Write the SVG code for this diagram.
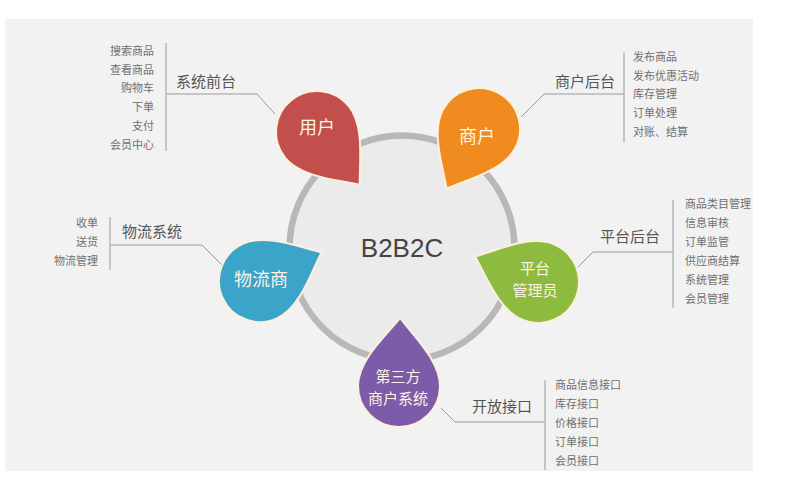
<svg xmlns="http://www.w3.org/2000/svg" width="800" height="500" viewBox="0 0 800 500">
<style>
.item{font-family:"Noto Sans CJK SC","Noto Sans",sans-serif;font-size:11px;fill:#707070}
.lbl{font-family:"Noto Sans CJK SC","Noto Sans",sans-serif;font-size:15px;fill:#555}
.ptxt{font-family:"Noto Sans CJK SC","Noto Sans",sans-serif;font-size:18px;fill:#fdf3e6;text-anchor:middle}
.ptxt2{font-family:"Noto Sans CJK SC","Noto Sans",sans-serif;font-size:15px;fill:#fdf3e6;text-anchor:middle}
.con{fill:none;stroke:#9a9a9a;stroke-width:1}
.bar{fill:none;stroke:#a8a8a8;stroke-width:1.2}
.petal{stroke:#fbf0dd;stroke-width:2}
</style>
<defs>
<path id="drop" d="M0,-68 C12,-52 41,-26 41,0 A41,41 0 1 1 -41,0 C-41,-26 -12,-52 0,-68 Z"/>
</defs>
<rect x="0" y="0" width="800" height="500" fill="#ffffff"/>
<rect x="5" y="19" width="748" height="452" fill="#f2f2f2"/>

<g id="hub">
<circle cx="402" cy="248" r="112.5" fill="#ebebeb" stroke="#b8b8b8" stroke-width="6.5"/>
<text x="402" y="257" font-family="Liberation Sans, Arial, sans-serif" font-size="26" fill="#444" text-anchor="middle">B2B2C</text>
</g>

<g id="connectors">
<polyline class="con" points="275,114 257,94 166,94"/>
<line class="bar" x1="166" y1="43" x2="166" y2="151"/>
<polyline class="con" points="521,117 544,94 624,94"/>
<line class="bar" x1="624" y1="52" x2="624" y2="142"/>
<polyline class="con" points="222,265 202,245 110,245"/>
<line class="bar" x1="110" y1="217" x2="110" y2="270"/>
<polyline class="con" points="578,267 593,252 673,252"/>
<line class="bar" x1="673" y1="200" x2="673" y2="308"/>
<polyline class="con" points="441,408 455,422 545,422"/>
<line class="bar" x1="545" y1="380" x2="545" y2="470"/>
</g>

<g id="user">
<use href="#drop" class="petal" fill="#c24f4b" transform="translate(317,132) rotate(141)"/>
<text class="ptxt" x="317" y="134">用户</text>
<text class="lbl" x="176" y="87">系统前台</text>
<g class="item" text-anchor="end">
<text x="154" y="55">搜索商品</text>
<text x="154" y="73.5">查看商品</text>
<text x="154" y="92">购物车</text>
<text x="154" y="111">下单</text>
<text x="154" y="130">支付</text>
<text x="154" y="149">会员中心</text>
</g>
</g>

<g id="merchant">
<use href="#drop" class="petal" fill="#ef8b1f" transform="translate(479,129) rotate(-151.5)"/>
<text class="ptxt" x="477" y="143">商户</text>
<text class="lbl" x="615" y="87" text-anchor="end">商户后台</text>
<g class="item">
<text x="633" y="61">发布商品</text>
<text x="633" y="79.5">发布优惠活动</text>
<text x="633" y="98">库存管理</text>
<text x="633" y="117">订单处理</text>
<text x="633" y="135.5">对账、结算</text>
</g>
</g>

<g id="logistics">
<use href="#drop" class="petal" fill="#3aa4c9" transform="translate(260,281) rotate(65)"/>
<text class="ptxt" x="261" y="286">物流商</text>
<text class="lbl" x="122" y="237">物流系统</text>
<g class="item" text-anchor="end">
<text x="98" y="227">收单</text>
<text x="98" y="246">送货</text>
<text x="98" y="265">物流管理</text>
</g>
</g>

<g id="admin">
<use href="#drop" class="petal" fill="#8dbb3f" transform="translate(538,282) rotate(-68)"/>
<text class="ptxt2" x="535" y="273.5">平台</text>
<text class="ptxt2" x="535" y="295.5">管理员</text>
<text class="lbl" x="660" y="242" text-anchor="end">平台后台</text>
<g class="item">
<text x="685" y="208">商品类目管理</text>
<text x="685" y="227">信息审核</text>
<text x="685" y="246">订单监管</text>
<text x="685" y="265">供应商结算</text>
<text x="685" y="284">系统管理</text>
<text x="685" y="303">会员管理</text>
</g>
</g>

<g id="thirdparty">
<use href="#drop" class="petal" fill="#7c5ca8" transform="translate(399,386) rotate(1)"/>
<text class="ptxt2" x="398" y="381.5">第三方</text>
<text class="ptxt2" x="398" y="403.5">商户系统</text>
<text class="lbl" x="472" y="412">开放接口</text>
<g class="item">
<text x="555" y="389">商品信息接口</text>
<text x="555" y="408">库存接口</text>
<text x="555" y="427">价格接口</text>
<text x="555" y="446">订单接口</text>
<text x="555" y="465">会员接口</text>
</g>
</g>
</svg>
